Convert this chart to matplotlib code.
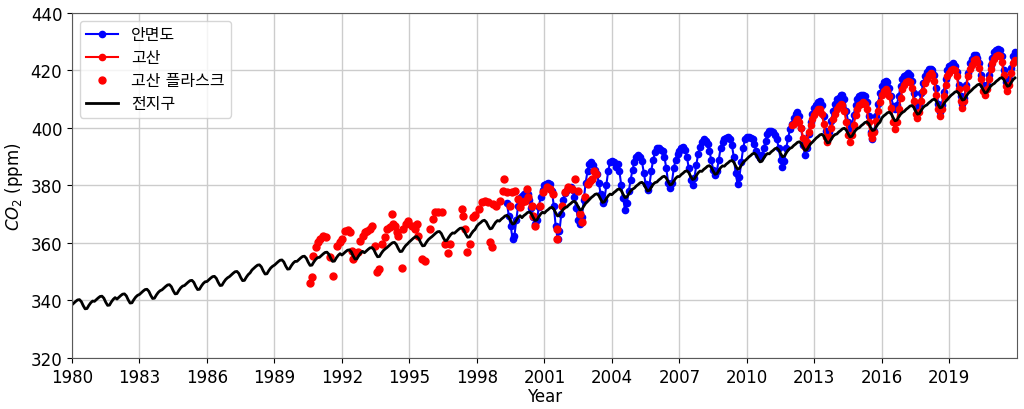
import numpy as np
import matplotlib
matplotlib.use("Agg")
import matplotlib.pyplot as plt

plt.rcParams['font.family'] = ['DejaVu Sans', 'Noto Sans CJK KR']
plt.rcParams['mathtext.fontset'] = 'dejavusans'

# 전지구 월평균 CO2 (1980.01 ~ 2021.12), 연도별 12개월
global_start = 1980
global_co2 = [
    338.5, 339.1, 339.7, 340.2, 340.3, 339.6, 338.2, 337.1, 337.2, 338.3, 339.2, 339.8,
    339.7, 340.3, 340.9, 341.4, 341.5, 340.8, 339.4, 338.3, 338.4, 339.5, 340.4, 341.0,
    340.5, 341.1, 341.7, 342.2, 342.3, 341.6, 340.2, 339.1, 339.2, 340.3, 341.2, 341.8,
    342.1, 342.7, 343.3, 343.8, 343.9, 343.2, 341.8, 340.7, 340.8, 341.9, 342.8, 343.4,
    343.7, 344.3, 344.9, 345.4, 345.5, 344.8, 343.4, 342.3, 342.4, 343.5, 344.4, 345.0,
    345.2, 345.8, 346.4, 346.9, 347.0, 346.3, 344.9, 343.8, 343.9, 345.0, 345.9, 346.5,
    346.6, 347.2, 347.8, 348.3, 348.4, 347.7, 346.3, 345.2, 345.3, 346.4, 347.3, 347.9,
    348.3, 348.9, 349.5, 350.0, 350.1, 349.4, 348.0, 346.9, 347.0, 348.1, 349.0, 349.6,
    350.6, 351.2, 351.8, 352.3, 352.4, 351.7, 350.3, 349.2, 349.3, 350.4, 351.3, 351.9,
    352.3, 352.9, 353.5, 354.0, 354.1, 353.4, 352.0, 350.9, 351.0, 352.1, 353.0, 353.6,
    353.6, 354.2, 354.8, 355.3, 355.4, 354.7, 353.3, 352.2, 352.3, 353.4, 354.3, 354.9,
    355.0, 355.6, 356.2, 356.7, 356.8, 356.1, 354.7, 353.6, 353.7, 354.8, 355.7, 356.3,
    355.8, 356.4, 357.0, 357.5, 357.6, 356.9, 355.5, 354.4, 354.5, 355.6, 356.5, 357.1,
    356.6, 357.2, 357.8, 358.3, 358.4, 357.7, 356.3, 355.2, 355.3, 356.4, 357.3, 357.9,
    358.4, 359.0, 359.6, 360.1, 360.2, 359.5, 358.1, 357.0, 357.1, 358.2, 359.1, 359.7,
    360.4, 361.0, 361.6, 362.1, 362.2, 361.5, 360.1, 359.0, 359.1, 360.2, 361.1, 361.7,
    362.2, 362.8, 363.4, 363.9, 364.0, 363.3, 361.9, 360.8, 360.9, 362.0, 362.9, 363.5,
    363.4, 364.0, 364.6, 365.1, 365.2, 364.5, 363.1, 362.0, 362.1, 363.2, 364.1, 364.7,
    365.9, 366.6, 367.1, 367.7, 367.9, 367.3, 366.0, 364.9, 365.1, 366.2, 367.2, 367.8,
    367.6, 368.3, 368.8, 369.4, 369.6, 369.0, 367.7, 366.6, 366.8, 367.9, 368.9, 369.5,
    368.8, 369.5, 370.0, 370.6, 370.8, 370.2, 368.9, 367.8, 368.0, 369.1, 370.1, 370.7,
    370.4, 371.1, 371.6, 372.2, 372.4, 371.8, 370.5, 369.4, 369.6, 370.7, 371.7, 372.3,
    372.5, 373.2, 373.7, 374.3, 374.5, 373.9, 372.6, 371.5, 371.7, 372.8, 373.8, 374.4,
    375.1, 375.8, 376.3, 376.9, 377.1, 376.5, 375.2, 374.1, 374.3, 375.4, 376.4, 377.0,
    376.8, 377.5, 378.0, 378.6, 378.8, 378.2, 376.9, 375.8, 376.0, 377.1, 378.1, 378.7,
    379.1, 379.8, 380.3, 380.9, 381.1, 380.5, 379.2, 378.1, 378.3, 379.4, 380.4, 381.0,
    381.2, 381.9, 382.4, 383.0, 383.2, 382.6, 381.3, 380.2, 380.4, 381.5, 382.5, 383.1,
    383.1, 383.8, 384.3, 384.9, 385.1, 384.5, 383.2, 382.1, 382.3, 383.4, 384.4, 385.0,
    384.9, 385.6, 386.1, 386.7, 386.9, 386.3, 385.0, 383.9, 384.1, 385.2, 386.2, 386.8,
    386.7, 387.4, 387.9, 388.5, 388.7, 388.1, 386.8, 385.7, 385.9, 387.0, 388.0, 388.6,
    389.2, 389.9, 390.4, 391.0, 391.2, 390.6, 389.3, 388.2, 388.4, 389.5, 390.5, 391.1,
    391.0, 391.7, 392.2, 392.8, 393.0, 392.4, 391.1, 390.0, 390.2, 391.3, 392.3, 392.9,
    393.2, 393.9, 394.4, 395.0, 395.2, 394.6, 393.3, 392.2, 392.4, 393.5, 394.5, 395.1,
    395.8, 396.5, 397.0, 397.6, 397.8, 397.2, 395.9, 394.8, 395.0, 396.1, 397.1, 397.7,
    397.9, 398.6, 399.1, 399.7, 399.9, 399.3, 398.0, 396.9, 397.1, 398.2, 399.2, 399.8,
    400.1, 400.8, 401.3, 401.9, 402.1, 401.5, 400.2, 399.1, 399.3, 400.4, 401.4, 402.0,
    403.5, 404.2, 404.7, 405.3, 405.5, 404.9, 403.6, 402.5, 402.7, 403.8, 404.8, 405.4,
    405.8, 406.5, 407.0, 407.6, 407.8, 407.2, 405.9, 404.8, 405.0, 406.1, 407.1, 407.7,
    408.0, 408.7, 409.2, 409.8, 410.0, 409.4, 408.1, 407.0, 407.2, 408.3, 409.3, 409.9,
    410.7, 411.4, 411.9, 412.5, 412.7, 412.1, 410.8, 409.7, 409.9, 411.0, 412.0, 412.6,
    413.2, 413.9, 414.4, 415.0, 415.2, 414.6, 413.3, 412.2, 412.4, 413.5, 414.5, 415.1,
    415.5, 416.2, 416.7, 417.3, 417.5, 416.9, 415.6, 414.5, 414.7, 415.8, 416.8, 417.4,
]

# 안면도 월평균 (1999.05 ~ 2021.12)
amd_start = 1999 + 4 / 12
amd_co2 = [
    374.0, 369.5, 366.0, 361.5, 362.5, 368.0, 373.0, 375.5,
    376.5, 377.0, 377.5, 377.0, 375.0, 372.0, 369.0, 366.5, 368.0, 372.5, 376.0, 378.5,
    380.0, 380.5, 381.0, 380.5, 378.0, 373.0, 366.0, 361.5, 364.0, 370.0, 375.0, 377.5,
    378.5, 379.0, 379.5, 378.5, 376.0, 372.0, 368.0, 366.5, 369.0, 375.0, 381.0, 385.0,
    387.5, 388.0, 387.0, 385.5, 384.0, 381.0, 377.0, 374.0, 375.0, 380.0, 385.0, 388.0,
    388.5, 388.0, 386.5, 387.5, 385.0, 380.0, 375.5, 371.5, 374.0, 378.0, 382.0, 385.5,
    388.0, 390.0, 390.5, 390.0, 388.5, 384.5, 380.5, 378.5, 380.0, 385.0, 389.0, 391.5,
    393.0, 393.0, 392.5, 392.0, 390.0, 386.0, 381.0, 379.0, 381.0, 386.0, 389.0, 391.0,
    392.0, 393.0, 393.5, 392.5, 390.0, 386.0, 382.0, 380.0, 382.5, 387.0, 391.0, 393.5,
    395.0, 396.0, 395.5, 394.5, 392.0, 389.0, 385.5, 383.5, 385.0, 389.0, 393.0, 395.0,
    396.0, 396.5, 397.0, 396.0, 394.0, 390.0, 384.5, 380.5, 383.0, 388.0, 393.0, 396.0,
    397.0, 397.0, 396.5, 396.0, 394.5, 392.0, 390.5, 389.5, 390.5, 393.0, 395.5, 398.0,
    399.0, 399.0, 398.5, 397.5, 396.0, 393.0, 389.0, 386.5, 388.5, 393.0, 396.5, 399.5,
    401.5, 403.5, 405.0, 405.5, 404.0, 400.0, 394.0, 390.5, 393.0, 398.0, 402.0, 405.0,
    407.0, 408.0, 409.0, 409.5, 408.0, 404.0, 399.0, 396.5, 398.5, 402.5, 406.0, 408.5,
    410.0, 410.5, 411.5, 411.5, 410.0, 406.0, 402.0, 399.5, 401.0, 404.5, 408.0, 410.0,
    411.0, 411.5, 411.5, 411.0, 409.0, 404.0, 398.5, 396.0, 399.0, 404.0, 408.5, 412.0,
    414.5, 416.0, 416.5, 416.0, 414.0, 411.0, 407.5, 406.5, 408.0, 411.0, 414.5, 417.0,
    418.0, 418.5, 419.0, 418.5, 416.5, 412.0, 408.0, 406.5, 408.5, 412.0, 415.5, 418.0,
    419.5, 420.5, 420.5, 420.0, 418.5, 414.0, 408.5, 405.5, 408.0, 412.5, 417.0, 420.0,
    421.5, 422.0, 422.5, 421.5, 419.5, 415.0, 411.0, 408.5, 410.5, 415.0, 419.0, 422.5,
    424.0, 425.5, 425.5, 424.5, 422.5, 418.5, 415.0, 413.5, 415.0, 418.5, 422.0, 424.5,
    426.5, 427.0, 427.5, 427.0, 425.0, 420.0, 416.0, 414.5, 417.0, 421.0, 425.0, 426.5,
]

# 고산 월평균 (2012.01 ~ 2021.12)
gosan_start = 2012
gosan_co2 = [
    401.0, 401.5, 402.5, 403.0, 402.0, 400.0, 396.5, 393.5, 395.0, 398.5, 401.0, 403.0,
    404.5, 405.5, 406.5, 406.5, 405.0, 401.5, 397.0, 395.0, 397.0, 400.0, 403.0, 405.0,
    406.5, 407.5, 408.5, 408.0, 406.0, 402.0, 397.5, 395.0, 397.5, 401.0, 404.5, 406.5,
    408.0, 408.5, 409.0, 408.5, 406.5, 402.0, 398.0, 396.5, 398.5, 402.5, 406.0, 409.0,
    411.5, 413.0, 413.5, 413.0, 411.0, 407.0, 402.0, 399.5, 402.0, 406.5, 410.5, 413.5,
    415.0, 416.0, 416.5, 416.0, 414.0, 409.5, 405.0, 403.5, 405.5, 409.5, 413.0, 415.5,
    417.0, 418.5, 419.0, 418.5, 416.5, 411.5, 406.5, 404.0, 406.5, 411.0, 415.0, 418.0,
    419.0, 420.0, 420.5, 420.0, 418.0, 413.5, 409.5, 407.0, 409.5, 414.0, 418.0, 420.5,
    422.0, 423.5, 424.0, 423.0, 421.0, 417.0, 413.0, 411.5, 413.5, 417.0, 420.5, 422.5,
    424.0, 425.0, 425.5, 425.0, 423.0, 418.5, 414.5, 413.0, 415.0, 419.0, 422.5, 423.5,
]

# 고산 플라스크 (불규칙 채집)
flask_year = [
    1990.58, 1990.67, 1990.72, 1990.84, 1990.95, 1991.02, 1991.17, 1991.29, 1991.47, 1991.59,
    1991.76, 1991.91, 1991.99, 1992.13, 1992.28, 1992.36, 1992.43, 1992.50, 1992.58, 1992.72,
    1992.80, 1992.95, 1993.02, 1993.10, 1993.24, 1993.32, 1993.47, 1993.57, 1993.64, 1993.76,
    1993.91, 1993.99, 1994.13, 1994.21, 1994.28, 1994.36, 1994.43, 1994.50, 1994.65, 1994.73,
    1994.84, 1994.95, 1995.10, 1995.24, 1995.32, 1995.39, 1995.54, 1995.69, 1995.91, 1996.06,
    1996.13, 1996.28, 1996.43, 1996.58, 1996.72, 1996.80, 1997.32, 1997.39, 1997.47, 1997.57,
    1997.69, 1997.84, 1997.91, 1998.10, 1998.21, 1998.36, 1998.50, 1998.58, 1998.65, 1998.73,
    1998.87, 1999.02, 1999.14, 1999.20, 1999.32, 1999.47, 1999.54, 1999.69, 1999.84, 1999.91,
    1999.99, 2000.13, 2000.21, 2000.28, 2000.43, 2000.50, 2000.58, 2000.80, 2000.95, 2001.10,
    2001.24, 2001.39, 2001.54, 2001.58, 2001.76, 2001.91, 2002.06, 2002.21, 2002.36, 2002.50,
    2002.58, 2002.65, 2002.80, 2002.95, 2003.02, 2003.10, 2003.20, 2003.28,
]
flask_co2 = [
    346.1, 348.2, 355.6, 358.5, 360.2, 361.4, 362.3, 362.0, 355.0, 348.4,
    359.1, 360.2, 361.4, 364.3, 364.5, 363.7, 357.3, 354.4, 356.2, 356.8,
    360.8, 362.5, 363.7, 364.3, 364.9, 366.0, 359.1, 349.8, 350.9, 359.7,
    362.0, 364.9, 365.5, 370.0, 366.6, 366.0, 363.7, 362.5, 351.2, 364.9,
    366.6, 367.8, 366.0, 364.9, 366.6, 362.5, 354.4, 353.8, 364.9, 368.3,
    370.7, 370.9, 370.7, 359.7, 356.5, 359.7, 371.8, 369.5, 364.9, 356.8,
    359.7, 368.9, 369.7, 371.8, 374.2, 374.7, 374.2, 360.2, 358.5, 373.6,
    373.0, 374.7, 378.2, 382.3, 377.6, 373.0, 377.6, 378.2, 375.3, 372.4,
    374.2, 374.7, 378.8, 375.9, 373.0, 369.5, 366.0, 373.0, 377.6, 379.4,
    378.8, 377.0, 361.4, 364.9, 373.0, 377.6, 379.4, 378.8, 382.3, 378.2,
    370.1, 367.2, 375.9, 380.5, 381.7, 382.3, 385.0, 384.0,
]

x_ticks = [1980, 1983, 1986, 1989, 1992, 1995, 1998, 2001, 2004, 2007, 2010, 2013, 2016, 2019]
y_ticks = [320, 340, 360, 380, 400, 420, 440]

# 월 단위 시간축
global_t = global_start + np.arange(len(global_co2)) / 12
amd_t = amd_start + np.arange(len(amd_co2)) / 12
gosan_t = gosan_start + np.arange(len(gosan_co2)) / 12

fig = plt.figure(figsize=(10.24, 4.10), dpi=100)
ax = fig.add_axes([0.0703, 0.1244, 0.9227, 0.8416])

ax.plot(amd_t, amd_co2, color='blue', marker='o', markersize=4.5, linewidth=1.5, label='안면도')
ax.plot(gosan_t, gosan_co2, color='red', marker='o', markersize=4.5, linewidth=1.5, label='고산')
ax.plot(flask_year, flask_co2, color='red', marker='o', markersize=5, linestyle='none', label='고산 플라스크')
ax.plot(global_t, global_co2, color='black', linewidth=2, label='전지구')

ax.set_xlim(1980, 2022)
ax.set_ylim(320, 440)
ax.set_xticks(x_ticks)
ax.set_yticks(y_ticks)
ax.tick_params(labelsize=12)
ax.grid(True, color='#cccccc', linewidth=1)
ax.set_axisbelow(True)
for s in ax.spines.values():
    s.set_color('0.35')

ax.set_xlabel('Year', fontsize=12, labelpad=1)
ax.set_ylabel('$CO_2$ (ppm)', fontsize=12)
ax.legend(loc='upper left', fontsize=11.5)

fig.savefig('out.png', dpi=100)
